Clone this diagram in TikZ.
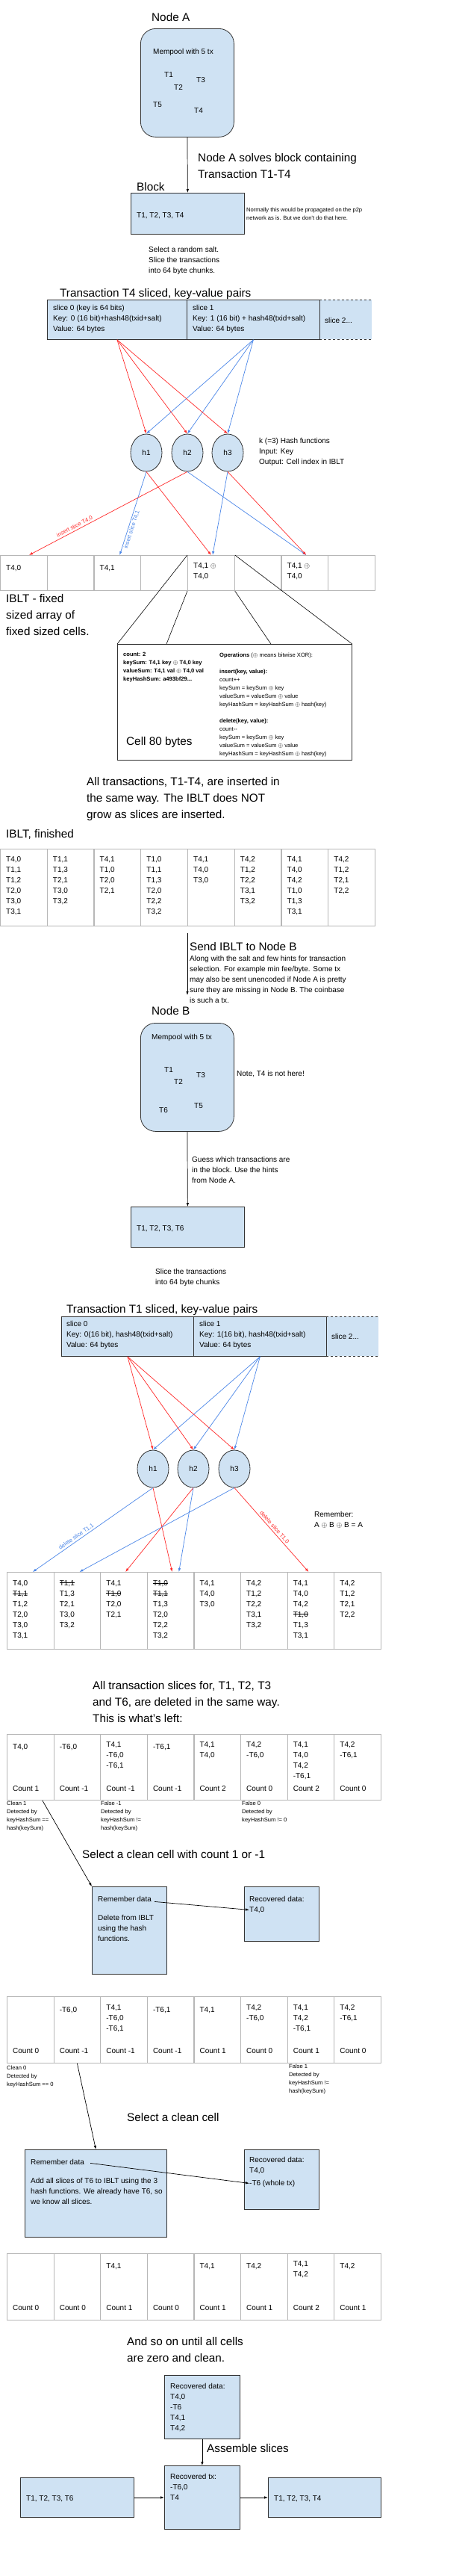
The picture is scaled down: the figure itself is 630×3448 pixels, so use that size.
\documentclass[tikz,border=0pt]{standalone}
\usepackage{fontspec}
\setmainfont{Liberation Sans}
\usetikzlibrary{arrows.meta,shapes.geometric}

\definecolor{boxblue}{HTML}{CFE2F3}
\definecolor{edgered}{HTML}{FF2A2A}
\definecolor{edgeblue}{HTML}{4A86E8}
\definecolor{gridgray}{HTML}{B7B7B7}
\definecolor{boxline}{HTML}{333333}

\newcommand{\struck}[1]{\setbox0\hbox{#1}\rlap{\rule[0.33em]{\wd0}{0.6pt}}\box0}

% text nodes are placed by the baseline of their first line
\tikzset{
  bluebox/.style={draw=boxline, fill=boxblue, line width=0.8pt, inner sep=0pt, anchor=north west},
  cellbox/.style={draw=gridgray, line width=1pt, minimum width=62.7pt, inner sep=0pt, anchor=north west},
  hashnode/.style={ellipse, draw=boxline, fill=boxblue, line width=0.8pt, minimum width=42pt, minimum height=50pt, inner sep=0pt, font=\fontsize{10}{12}\selectfont},
  txt/.style={anchor=north west, yshift=9.8pt, inner sep=0pt, align=left, font=\fontsize{10}{14}\selectfont, execute at begin node=\strut},
  bigtxt/.style={anchor=north west, yshift=15.4pt, inner sep=0pt, align=left, font=\fontsize{15.3}{22}\selectfont, execute at begin node=\strut},
  smalltxt/.style={anchor=north west, yshift=7.7pt, inner sep=0pt, align=left, font=\fontsize{7.6}{11}\selectfont, execute at begin node=\strut},
  edgelabel/.style={font=\fontsize{7.6}{9}\selectfont, inner sep=1.5pt, sloped},
  arr/.style={-{Latex[length=5pt,width=3.5pt]}, line width=0.7pt},
  redline/.style={arr, edgered},
  blueline/.style={arr, edgeblue},
}

\begin{document}
\begin{tikzpicture}[x=1pt, y=-1pt]

% Page
\fill[white] (0,0) rectangle (630,3448);

% Node A
\node[bigtxt] (nodeAlbl) at (203,28.5) {Node A};
\node[bluebox, rounded corners=20pt, minimum width=125pt, minimum height=145pt] (nodeA) at (188,38) {};
\node[txt] (memA) at (205,72) {Mempool with 5 tx};
\node (a1) at (226,100) {\fontsize{10}{12}\selectfont T1};
\node (a2) at (239,117) {\fontsize{10}{12}\selectfont T2};
\node (a3) at (269,107) {\fontsize{10}{12}\selectfont T3};
\node (a5) at (211,140) {\fontsize{10}{12}\selectfont T5};
\node (a4) at (266,148) {\fontsize{10}{12}\selectfont T4};

% Block of node A
\node[bigtxt] (solve) at (265,220.5) {Node A solves block containing\\Transaction T1-T4};
\node[bigtxt] (blockAlbl) at (183,255.5) {Block};
\node[bluebox, minimum width=152pt, minimum height=55pt] (blockA) at (175,258) {};
\node[txt] (blockAtxt) at (183,291) {T1, T2, T3, T4};
\node[smalltxt] (p2p) at (330,285) {Normally this would be propagated on the p2p\\network as is. But we don't do that here.};
\draw[arr] (nodeA.south) -- (blockA.north);

% Slicing of T4
\node[txt] (saltA) at (199,340) {Select a random salt.\\Slice the transactions\\into 64 byte chunks.};
\node[bigtxt] (slicedA) at (80,397.5) {Transaction T4 sliced, key-value pairs};
\node[fill=boxblue, minimum width=70pt, minimum height=53pt, inner sep=0pt, anchor=north west] (sa2) at (428,401) {};
\draw[boxline, dashed, line width=0.8pt] (sa2.north west) -- (sa2.north east);
\draw[boxline, dashed, line width=0.8pt] (sa2.south west) -- (sa2.south east);
\node[bluebox, minimum width=187pt, minimum height=53pt] (sa0) at (63,401) {};
\node[bluebox, minimum width=178pt, minimum height=53pt] (sa1) at (250,401) {};
\node[txt] (sa0t) at (71,418) {slice 0 (key is 64 bits)\\Key: 0 (16 bit)+hash48(txid+salt)\\Value: 64 bytes};
\node[txt] (sa1t) at (258,418) {slice 1\\Key: 1 (16 bit) + hash48(txid+salt)\\Value: 64 bytes};
\node[txt] (sa2t) at (435,432) {slice 2...};

% Hash functions
\node[hashnode] (ha1) at (196,606) {h1};
\node[hashnode] (ha2) at (251,606) {h2};
\node[hashnode] (ha3) at (305,606) {h3};
\node[txt] (hashinfo) at (347,596) {k (=3) Hash functions\\Input: Key\\Output: Cell index in IBLT};
\foreach \h in {1,2,3} {
    \draw[redline] (sa0.south) -- (ha\h.north);
    \draw[blueline] (sa1.south) -- (ha\h.north);
}

% IBLT - 8 cells
\foreach \i in {1,...,8}
    \node[cellbox, minimum height=47pt] (ia\i) at ({62.75*(\i-1)},743) {};
\node[txt] (iat1) at ([xshift=8pt,yshift=-20pt]ia1.north west) {T4,0};
\node[txt] (iat3) at ([xshift=8pt,yshift=-20pt]ia3.north west) {T4,1};
\node[txt] (iat5) at ([xshift=8pt,yshift=-20pt]ia5.north west) {T4,1 $\oplus$\\T4,0};
\node[txt] (iat7) at ([xshift=8pt,yshift=-20pt]ia7.north west) {T4,1 $\oplus$\\T4,0};
\draw[blueline] (ha1.south) -- node[edgelabel, below, pos=0.68] {insert slice T4,1} ([xshift=3pt]ia3.north);
\draw[redline] (ha1.south) -- (ia5.north);
\draw[redline] (ha2.south) -- node[edgelabel, above, pos=0.7] {insert slice T4,0} ([xshift=7pt]ia1.north);
\draw[blueline] (ha2.south) -- ([xshift=2pt]ia7.north);
\draw[blueline] (ha3.south) -- ([xshift=2pt]ia5.north);
\draw[redline] (ha3.south) -- ([xshift=2pt]ia7.north);
\node[bigtxt] (ibltlbl) at (8,810.5) {IBLT - fixed\\sized array of\\fixed sized cells.};

% Cell detail
\node[draw=boxline, fill=white, line width=0.8pt, minimum width=314pt, minimum height=155pt, inner sep=0pt, anchor=north west] (detail) at (157,862) {};
\draw[line width=0.6pt] (ia5.north west) -- (detail.north west);
\draw[line width=0.6pt] (ia5.south west) -- ([xshift=66pt]detail.north west);
\draw[line width=0.6pt] (ia5.south east) -- ([xshift=206pt]detail.north west);
\draw[line width=0.6pt] (ia5.north east) -- (detail.north east);
\node[smalltxt, font=\fontsize{7.6}{11}\selectfont\bfseries] (fields) at (165,881) {count: 2\\keySum: T4,1 key $\oplus$ T4,0 key\\valueSum: T4,1 val $\oplus$ T4,0 val\\keyHashSum: a493bf29...};
\node[smalltxt] (ops) at (294,881) {\textbf{Operations} ($\oplus$ means bitwise XOR):\\[11pt]\textbf{insert(key, value):}\\count++\\keySum = keySum $\oplus$ key\\valueSum = valueSum $\oplus$ value\\keyHashSum = keyHashSum $\oplus$ hash(key)\\[11pt]\textbf{delete(key, value):}\\count-{}-\\keySum = keySum $\oplus$ key\\valueSum = valueSum $\oplus$ value\\keyHashSum = keyHashSum $\oplus$ hash(key)};
\node[bigtxt] (cellsize) at (169,997.5) {Cell 80 bytes};

% IBLT finished
\node[bigtxt] (allins) at (116,1055.5) {All transactions, T1-T4, are inserted in\\the same way. The IBLT does NOT\\grow as slices are inserted.};
\node[bigtxt] (finlbl) at (8,1121.5) {IBLT, finished};
\foreach \i in {1,...,8}
    \node[cellbox, minimum height=103pt] (fa\i) at ({62.75*(\i-1)},1136) {};
\foreach \i/\t in {1/{T4,0\\T1,1\\T1,2\\T2,0\\T3,0\\T3,1}, 2/{T1,1\\T1,3\\T2,1\\T3,0\\T3,2}, 3/{T4,1\\T1,0\\T2,0\\T2,1}, 4/{T1,0\\T1,1\\T1,3\\T2,0\\T2,2\\T3,2}, 5/{T4,1\\T4,0\\T3,0}, 6/{T4,2\\T1,2\\T2,2\\T3,1\\T3,2}, 7/{T4,1\\T4,0\\T4,2\\T1,0\\T1,3\\T3,1}, 8/{T4,2\\T1,2\\T2,1\\T2,2}}
    \node[txt] (fat\i) at ([xshift=8pt,yshift=-20pt]fa\i.north west) {\t};

% Send to node B
\coordinate (sendtip) at (251,1332);
\draw[arr] ([yshift=-9pt]fa5.south west) -- (sendtip);
\node[bigtxt] (sendlbl) at (254,1272.5) {Send IBLT to Node B};
\node[txt] (hints) at (254,1289) {Along with the salt and few hints for transaction\\selection. For example min fee/byte. Some tx\\may also be sent unencoded if Node A is pretty\\sure they are missing in Node B. The coinbase\\is such a tx.};

% Node B
\node[bigtxt] (nodeBlbl) at (203,1358.5) {Node B};
\node[bluebox, rounded corners=20pt, minimum width=125pt, minimum height=145pt] (nodeB) at (188,1369) {};
\node[txt] (memB) at (203,1391) {Mempool with 5 tx};
\node (b1) at (226,1432) {\fontsize{10}{12}\selectfont T1};
\node (b2) at (239,1448) {\fontsize{10}{12}\selectfont T2};
\node (b3) at (269,1439) {\fontsize{10}{12}\selectfont T3};
\node (b6) at (219,1486) {\fontsize{10}{12}\selectfont T6};
\node (b5) at (266,1480) {\fontsize{10}{12}\selectfont T5};
\node[txt] (noteT4) at (317,1440) {Note, T4 is not here!};

% Block of node B
\node[bluebox, minimum width=152pt, minimum height=54pt] (blockB) at (175,1615) {};
\node[txt] (blockBtxt) at (183,1647) {T1, T2, T3, T6};
\draw[arr] (nodeB.south) -- (blockB.north);
\node[txt] (guess) at (257,1558) {Guess which transactions are\\in the block. Use the hints\\from Node A.};

% Slicing of T1
\node[txt] (saltB) at (208,1708) {Slice the transactions\\into 64 byte chunks};
\node[bigtxt] (slicedB) at (89,1757.5) {Transaction T1 sliced, key-value pairs};
\node[fill=boxblue, minimum width=70pt, minimum height=53pt, inner sep=0pt, anchor=north west] (sb2) at (437,1762) {};
\draw[boxline, dashed, line width=0.8pt] (sb2.north west) -- (sb2.north east);
\draw[boxline, dashed, line width=0.8pt] (sb2.south west) -- (sb2.south east);
\node[bluebox, minimum width=177pt, minimum height=53pt] (sb0) at (82,1762) {};
\node[bluebox, minimum width=178pt, minimum height=53pt] (sb1) at (259,1762) {};
\node[txt] (sb0t) at (89,1778) {slice 0\\Key: 0(16 bit), hash48(txid+salt)\\Value: 64 bytes};
\node[txt] (sb1t) at (267,1778) {slice 1\\Key: 1(16 bit), hash48(txid+salt)\\Value: 64 bytes};
\node[txt] (sb2t) at (444,1792) {slice 2...};

\node[hashnode] (hb1) at (205,1966) {h1};
\node[hashnode] (hb2) at (259,1966) {h2};
\node[hashnode] (hb3) at (314,1966) {h3};
\foreach \h in {1,2,3} {
    \draw[redline] (sb0.south) -- (hb\h.north);
    \draw[blueline] (sb1.south) -- (hb\h.north);
}

% Deleting T1 slices
\node[txt] (remember) at (421,2033) {Remember:\\A $\oplus$ B $\oplus$ B = A};
\foreach \i in {1,...,8}
    \node[cellbox, minimum height=103pt] (da\i) at ({9+62.6*(\i-1)},2104) {};
\foreach \i/\t in {1/{T4,0\\\struck{T1,1}\\T1,2\\T2,0\\T3,0\\T3,1}, 2/{\struck{T1,1}\\T1,3\\T2,1\\T3,0\\T3,2}, 3/{T4,1\\\struck{T1,0}\\T2,0\\T2,1}, 4/{\struck{T1,0}\\\struck{T1,1}\\T1,3\\T2,0\\T2,2\\T3,2}, 5/{T4,1\\T4,0\\T3,0}, 6/{T4,2\\T1,2\\T2,2\\T3,1\\T3,2}, 7/{T4,1\\T4,0\\T4,2\\\struck{T1,0}\\T1,3\\T3,1}, 8/{T4,2\\T1,2\\T2,1\\T2,2}}
    \node[txt] (dat\i) at ([xshift=8pt,yshift=-21pt]da\i.north west) {\t};
\draw[blueline] (hb1.south) -- node[edgelabel, above, pos=0.62] {delete slice T1,1} ([xshift=3pt]da1.north);
\draw[redline] (hb1.south) -- ([xshift=2pt]da4.north);
\draw[redline] (hb2.south) -- ([xshift=2pt]da3.north);
\draw[blueline] (hb2.south) -- ([xshift=11pt]da4.north);
\draw[blueline] (hb3.south) -- ([xshift=3pt]da2.north);
\draw[redline] (hb3.south) -- node[edgelabel, above, pos=0.5] {delete slice T1,0} ([xshift=-3pt]da7.north);

% What is left
\node[bigtxt] (alldel) at (124,2265.5) {All transaction slices for, T1, T2, T3\\and T6, are deleted in the same way.\\This is what’s left:};
\foreach \i in {1,...,8}
    \node[cellbox, minimum height=88pt] (la\i) at ({9+62.6*(\i-1)},2321) {};
\foreach \i/\t in {1/{T4,0}, 2/{-T6,0}, 3/{T4,1\\-T6,0\\-T6,1}, 4/{-T6,1}, 5/{T4,1\\T4,0}, 6/{T4,2\\-T6,0}, 7/{T4,1\\T4,0\\T4,2\\-T6,1}, 8/{T4,2\\-T6,1}}
    \node[txt] (lat\i) at ([xshift=8pt,yshift=-20pt]la\i.north west) {\t};
\foreach \i/\c in {1/1, 2/-1, 3/-1, 4/-1, 5/2, 6/0, 7/2, 8/0}
    \node[txt] (lac\i) at ([xshift=8pt,yshift=-76pt]la\i.north west) {Count \c};
\node[smalltxt] (clean1) at (9,2418) {Clean 1\\Detected by\\keyHashSum ==\\hash(keySum)};
\node[smalltxt] (false1) at (135,2418) {False -1\\Detected by\\keyHashSum !=\\hash(keySum)};
\node[smalltxt] (false0) at (324,2418) {False 0\\Detected by\\keyHashSum != 0};

% First clean cell
\node[bigtxt] (select1) at (110,2487.5) {Select a clean cell with count 1 or -1};
\node[bluebox, minimum width=100pt, minimum height=117pt] (remA) at (123,2525) {};
\node[bluebox, minimum width=100pt, minimum height=73pt] (recA) at (327,2525) {};
\node[txt] (remA1) at (131,2545) {Remember data};
\node[txt] (remA2) at (131,2573) {Delete from IBLT\\using the hash\\functions.};
\node[txt] (recA1) at (334,2545) {Recovered data:};
\node[txt] (recA2) at (334,2559) {T4,0};
\draw[arr] ([xshift=16pt]la1.south) -- (remA.north west);
\draw[arr] ([xshift=4pt,yshift=-3pt]remA1.east) -- (recA2.west);

% After first removal
\foreach \i in {1,...,8}
    \node[cellbox, minimum height=89pt] (ma\i) at ({9+62.6*(\i-1)},2672) {};
\foreach \i/\t in {2/{-T6,0}, 3/{T4,1\\-T6,0\\-T6,1}, 4/{-T6,1}, 5/{T4,1}, 6/{T4,2\\-T6,0}, 7/{T4,1\\T4,2\\-T6,1}, 8/{T4,2\\-T6,1}}
    \node[txt] (mat\i) at ([xshift=8pt,yshift=-21pt]ma\i.north west) {\t};
\foreach \i/\c in {1/0, 2/-1, 3/-1, 4/-1, 5/1, 6/0, 7/1, 8/0}
    \node[txt] (mac\i) at ([xshift=8pt,yshift=-76pt]ma\i.north west) {Count \c};
\node[smalltxt] (clean0) at (9,2772) {Clean 0\\Detected by\\keyHashSum == 0};
\node[smalltxt] (falseB) at (387,2770) {False 1\\Detected by\\keyHashSum !=\\hash(keySum)};

% Second clean cell
\node[bigtxt] (select2) at (170,2839.5) {Select a clean cell};
\node[bluebox, minimum width=190pt, minimum height=117pt] (remB) at (33,2877) {};
\node[bluebox, minimum width=100pt, minimum height=80pt] (recB) at (327,2877) {};
\node[txt] (remB1) at (41,2897) {Remember data};
\node[txt] (remB2) at (41,2925) {Add all slices of T6 to IBLT using the 3\\hash functions. We already have T6, so\\we know all slices.};
\node[txt] (recB1) at (334,2897) {Recovered data:\\T4,0};
\node[txt] (recB2) at (334,2925) {-T6 (whole tx)};
\draw[arr] (ma2.south) -- (remB.north);
\draw[arr] ([xshift=8pt,yshift=-1pt]remB1.east) -- (recB2.west);

% After second removal
\foreach \i in {1,...,8}
    \node[cellbox, minimum height=89pt] (na\i) at ({9+62.6*(\i-1)},3016) {};
\foreach \i/\t in {3/{T4,1}, 5/{T4,1}, 6/{T4,2}, 7/{T4,1\\T4,2}, 8/{T4,2}}
    \node[txt] (nat\i) at ([xshift=8pt,yshift=-20pt]na\i.north west) {\t};
\foreach \i/\c in {1/0, 2/0, 3/1, 4/0, 5/1, 6/1, 7/2, 8/1}
    \node[txt] (nac\i) at ([xshift=8pt,yshift=-76pt]na\i.north west) {Count \c};
\node[bigtxt] (andso) at (170,3143.5) {And so on until all cells\\are zero and clean.};

% Assembling
\node[bluebox, minimum width=101pt, minimum height=85pt] (recC) at (220,3179) {};
\node[txt] (recCt) at (228,3200) {Recovered data:\\T4,0\\-T6\\T4,1\\T4,2};
\node[bluebox, minimum width=101pt, minimum height=85pt] (rectx) at (220,3300) {};
\node[txt] (rectxt) at (228,3321) {Recovered tx:\\-T6,0\\T4};
\node[bluebox, minimum width=152pt, minimum height=53pt] (leftbox) at (27,3316) {};
\node[txt] (lefttxt) at (35,3347) {T1, T2, T3, T6};
\node[bluebox, minimum width=151pt, minimum height=53pt] (rightbox) at (359,3316) {};
\node[txt] (righttxt) at (367,3347) {T1, T2, T3, T4};
\draw[arr] (recC.south) -- (rectx.north);
\node[bigtxt] (assemble) at (277,3282.5) {Assemble slices};
\draw[arr] (leftbox.east) -- (rectx.west);
\draw[arr] (rectx.east) -- (rightbox.west);

\end{tikzpicture}
\end{document}
